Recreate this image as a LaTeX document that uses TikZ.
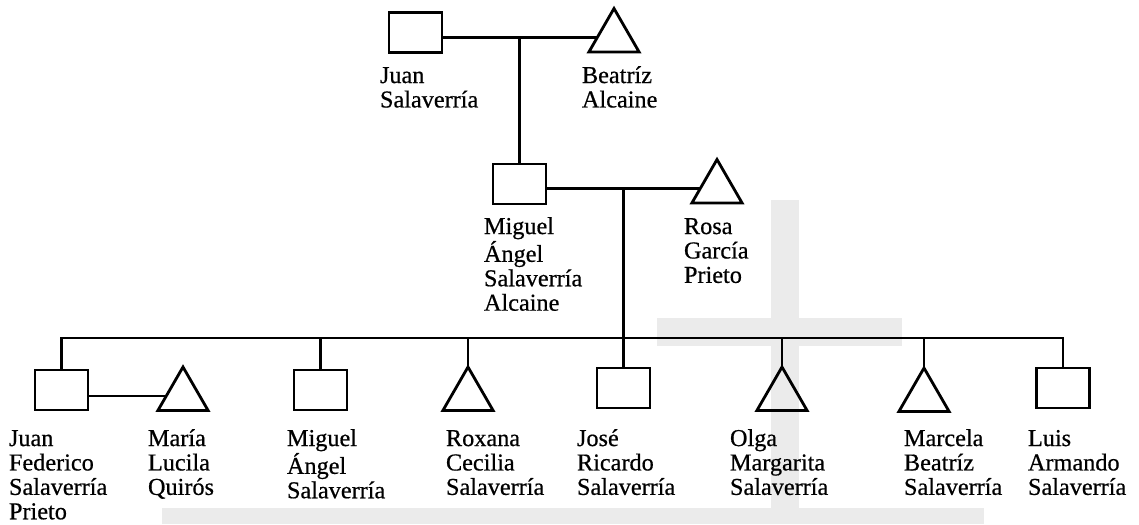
\documentclass[tikz,border=0pt]{standalone}
\usepackage{fontspec}
\setmainfont[FakeBold=0.6]{Liberation Serif}
\usetikzlibrary{shapes.geometric}
\newcommand\lblstrut{\rule{0pt}{11pt}}
\begin{document}
\begin{tikzpicture}[x=0.02cm,y=-0.02cm,
  every node/.style={inner sep=0pt,outer sep=0pt},
  male/.style={draw, line width=1.6pt, rectangle, minimum width=1.06cm, minimum height=0.8cm},
  female/.style={draw, line width=1.6pt, regular polygon, regular polygon sides=3, minimum size=1.16cm},
  link/.style={line width=1.6pt},
  lbl/.style={anchor=north west, align=left, font=\fontsize{13.8}{13.9}\selectfont},
  wm/.style={fill=black!8, draw=none}]
\useasboundingbox (0,0) rectangle (1139,524);
% light watermark
\fill[wm] (771,200) rectangle (799,524);
\fill[wm] (657,318) rectangle (902,346);
\fill[wm] (162,508) rectangle (984,524);
% generation 1
\node[male] (juan) at (415.5,32.5) {};
\node[female] (beatriz) at (614,37.5) {};
% generation 2
\node[male] (miguel) at (519.5,184) {};
\node[female] (rosa) at (717,188.5) {};
% generation 3
\node[male] (jf) at (61.5,390) {};
\node[female] (maria) at (183,396) {};
\node[male] (ma) at (320.5,390) {};
\node[female] (roxana) at (468,396) {};
\node[male] (jose) at (623.5,388) {};
\node[female] (olga) at (782,396) {};
\node[female] (marcela) at (924,397) {};
\node[male] (luis) at (1063,388) {};
% connectors
\coordinate (u1) at (miguel.north |- beatriz.center);
\draw[link] (juan.east |- beatriz.center) -- (beatriz);
\draw[link] (u1) -- (miguel.north);
\coordinate (u2) at (jose.north |- rosa.center);
\draw[link] (miguel.east |- rosa.center) -- (rosa);
\draw[link] (u2) -- (jose.north);
\coordinate (sib) at (0,338);
\draw[link] (jf.north) -- (jf.north |- sib) -- (luis.north |- sib) -- (luis.north);
\foreach \n in {ma,roxana,olga,marcela} \draw[link] (\n.north) -- (\n.north |- sib);
\draw[link] (jf.east |- maria.center) -- (maria);
% labels
\node[lbl] (tjuan) at (380,63.7) {\lblstrut Juan\\Salaverría};
\node[lbl] (tbeatriz) at (582,63.7) {\lblstrut Beatríz\\Alcaine};
\node[lbl] (tmiguel) at (484,214.7) {\lblstrut Miguel\\Ángel\\Salaverría\\Alcaine};
\node[lbl] (trosa) at (684,214.7) {\lblstrut Rosa\\García\\Prieto};
\node[lbl] (tjf) at (9,426.7) {\lblstrut Juan\\Federico\\Salaverría\\Prieto};
\node[lbl] (tmaria) at (148,426.7) {\lblstrut María\\Lucila\\Quirós};
\node[lbl] (tma) at (287,426.7) {\lblstrut Miguel\\Ángel\\Salaverría};
\node[lbl] (troxana) at (446,426.7) {\lblstrut Roxana\\Cecilia\\Salaverría};
\node[lbl] (tjose) at (577,426.7) {\lblstrut José\\Ricardo\\Salaverría};
\node[lbl] (tolga) at (730,426.7) {\lblstrut Olga\\Margarita\\Salaverría};
\node[lbl] (tmarcela) at (904,426.7) {\lblstrut Marcela\\Beatríz\\Salaverría};
\node[lbl] (tluis) at (1028,426.7) {\lblstrut Luis\\Armando\\Salaverría};
\end{tikzpicture}
\end{document}
